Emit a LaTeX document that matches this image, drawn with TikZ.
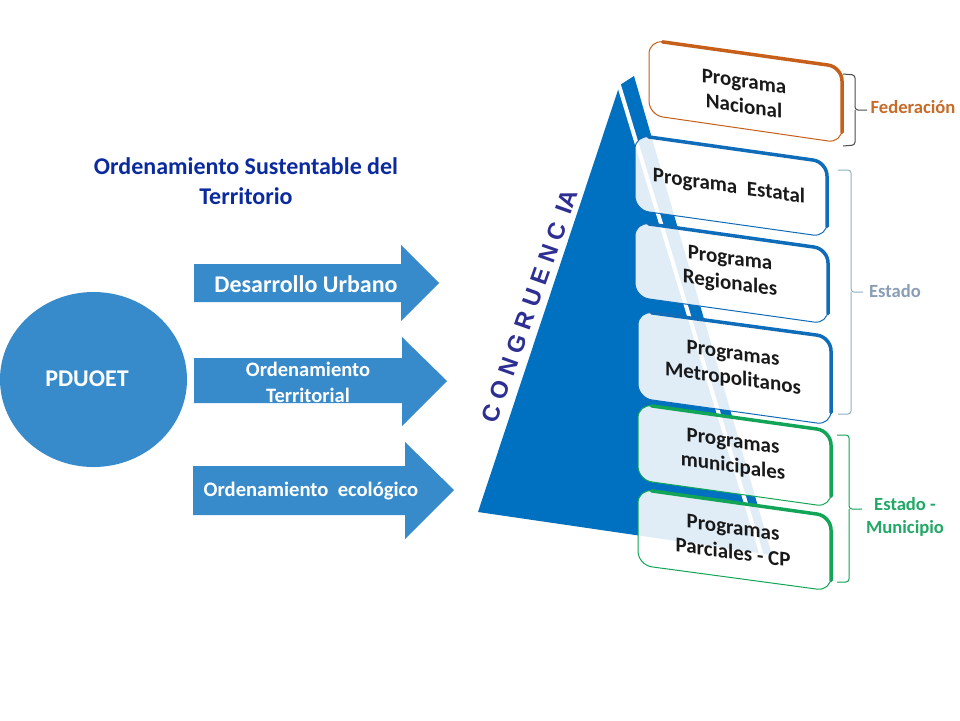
\documentclass[tikz,border=0pt]{standalone}
\usepackage{fontspec}
\usetikzlibrary{shapes.geometric,calc}
\setmainfont{Carlito}
\newfontfamily\arialfont{Liberation Sans}
\definecolor{tribl}{HTML}{0070C0}
\definecolor{shapebl}{HTML}{388BCB}
\definecolor{cardbl}{HTML}{0F6CB8}
\definecolor{cardor}{HTML}{C55F1A}
\definecolor{cardgr}{HTML}{12A557}
\definecolor{titlebl}{HTML}{0A2A9E}
\definecolor{congbl}{HTML}{2E2F92}
\definecolor{estadocol}{HTML}{8A9DB5}
\definecolor{bracebl}{HTML}{8FB0C4}
\definecolor{federacol}{HTML}{C86A28}
\definecolor{municol}{HTML}{22A866}
\tikzset{
  flow/.style={fill=shapebl,draw=none},
  flowtext/.style={text=white,font=\bfseries,inner sep=0pt,align=center},
  cardfill/.style={fill=white,fill opacity=0.88,draw=none,rounded corners=14pt},
  cardtext/.style={text=black!90,font=\fontsize{21}{25}\selectfont\bfseries,yslant=-0.14,align=center,inner sep=0pt},
  bracel/.style={rounded corners=3pt,line width=1pt},
  sidetext/.style={font=\fontsize{18.6}{23}\selectfont\bfseries,inner sep=0pt,align=center},
}
\begin{document}
\begin{tikzpicture}[x=1pt,y=-1pt]
\useasboundingbox (0,0) rectangle (960,720);
\fill[white] (0,0) rectangle (960,720);

% left side
\node[flow,ellipse,minimum width=187pt,minimum height=175pt,inner sep=0pt] (circ) at (93.5,379.5) {};
\node[flowtext,font=\fontsize{24}{25}\selectfont\bfseries] (pd) at (87,379) {PDUOET};
\fill[flow] (194,264) -- (401,264) -- (401,245) -- (439,283) -- (401,321) -- (401,302) -- (194,302) -- cycle;
\fill[flow] (194,358) -- (402,358) -- (402,337) -- (447,381) -- (402,426) -- (402,403) -- (194,403) -- cycle;
\fill[flow] (193,466) -- (405,466) -- (405,442) -- (454,490) -- (405,539) -- (405,515) -- (193,515) -- cycle;
\node[flowtext,font=\fontsize{24}{26}\selectfont\bfseries] (a1) at (306,284) {Desarrollo Urbano};
\node[flowtext,font=\fontsize{20.5}{26}\selectfont\bfseries] (a2) at (308,382) {Ordenamiento\\Territorial};
\node[flowtext,font=\fontsize{20.6}{24}\selectfont\bfseries] (a3) at (311,491) {Ordenamiento\ \ ecológico};
\node[font=\fontsize{24}{30}\selectfont\bfseries,text=titlebl,align=center,inner sep=0pt] (title) at (246,181) {Ordenamiento Sustentable del\\Territorio};

% triangle
\fill[tribl] (618,90) -- (478,512) -- (772,555) -- (634,76) -- (620,85) -- cycle;
\draw[white,line width=4pt] (618,82) -- (762,556);
\node[rotate=70.5,text=congbl,font=\arialfont\fontsize{24}{24}\selectfont\bfseries,inner sep=0pt] (cong) at (530,306) {C O N G R U E N C\ \,IA};

% cards
\foreach \xa/\xb/\ya/\yb/\yc/\yd/\col in {
 649/842/40/67/143/115/cardor,
 635/827/135/162/237/210/cardbl,
 635/828/222/249/324/297/cardbl,
 638/831/311/337/425/398/cardbl,
 638/831/404/431/507/480/cardgr,
 638/831/489/516/591/565/cardgr}{
  \fill[cardfill] (\xa,\ya) -- (\xb,\yb) -- (\xb,\yc) -- (\xa,\yd) -- cycle;
  \draw[\col,line width=1pt,rounded corners=14pt] (\xa,\ya) -- (\xb,\yb) -- (\xb,\yc) -- (\xa,\yd) -- cycle;
  \draw[\col,line width=3.5pt,rounded corners=14pt,line cap=round] ($(\xa,\ya)!0.07!(\xb,\yb)$) -- (\xb,\yb) -- ($(\xb,\yb)!0.86!(\xb,\yc)$);
}
\node[cardtext] (c1) at (744,94) {Programa\\Nacional};
\node[cardtext] (c2) at (729,187) {Programa\ \ Estatal};
\node[cardtext] (c3) at (730,272) {Programa\\Regionales};
\node[cardtext] (c4) at (733,367) {Programas\\Metropolitanos};
\node[cardtext] (c5) at (733,455) {Programas\\municipales};
\node[cardtext] (c6) at (733,540) {Programas\\Parciales - CP};

% braces
\coordinate (b1a) at (843,74); \coordinate (b1b) at (843,146); \coordinate (b1t) at (867,110);
\draw[bracel,draw=black!70] (b1a) -- (855,75) -- (855,110) -- (b1t) (855,110) -- (855,145) -- (b1b);
\coordinate (b2a) at (838,170); \coordinate (b2b) at (838,414); \coordinate (b2t) at (863,292);
\draw[bracel,draw=bracebl] (b2a) -- (851,170) -- (851,292) -- (b2t) (851,292) -- (851,414) -- (b2b);
\coordinate (b3a) at (837,435); \coordinate (b3b) at (837,582); \coordinate (b3t) at (862,509);
\draw[bracel,draw=cardgr] (b3a) -- (849,435) -- (849,509) -- (b3t) (849,509) -- (849,582) -- (b3b);
\node[sidetext,text=federacol] (l1) at (913,107) {Federación};
\node[sidetext,text=estadocol] (l2) at (895,291) {Estado};
\node[sidetext,text=municol] (l3) at (905,517) {Estado -\\Municipio};
\end{tikzpicture}
\end{document}
